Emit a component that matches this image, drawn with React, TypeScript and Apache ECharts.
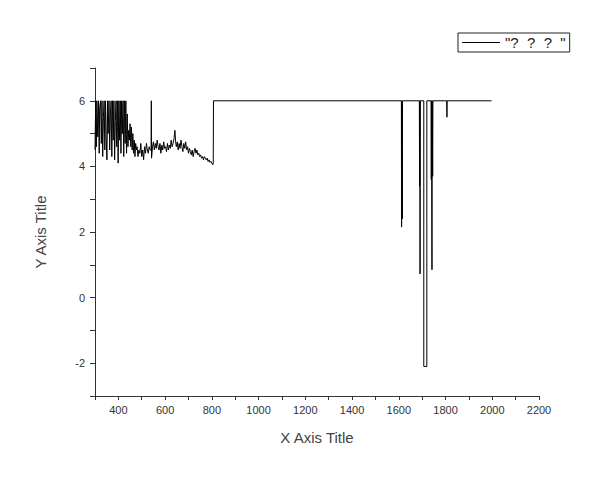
import React, { useEffect, useRef } from "react";
import * as echarts from "echarts";

const seriesName = '"?  ?  ?  "';
const xTitle = "X Axis Title";
const yTitle = "Y Axis Title";

// noisy start (x, y)
const noisyPoints: [number, number][] = [
  [300, 4.5], [303, 6], [306, 4.6], [308, 6], [312, 4.9], [315, 6], [318, 4.4], [320, 5.8],
  [324, 6], [327, 4.7], [330, 6], [333, 4.3], [336, 5.5], [339, 6], [342, 4.5], [345, 6],
  [348, 4.9], [351, 4.2], [354, 6], [356, 5.0], [360, 6], [363, 4.5], [366, 5.6], [369, 6],
  [372, 4.3], [375, 6], [378, 4.8], [381, 6], [384, 4.2], [387, 5.4], [390, 6], [393, 4.6],
  [396, 6], [399, 4.1], [402, 6], [405, 4.8], [408, 6], [411, 4.4], [414, 6], [417, 5.0],
  [420, 6], [423, 4.3], [426, 6], [429, 4.7], [432, 6], [435, 4.4], [438, 5.6], [441, 4.6],
  [444, 5.1], [447, 4.8], [450, 5.3], [453, 4.6], [456, 5.2], [459, 4.5], [462, 5.0], [465, 4.4],
  [468, 4.8], [471, 4.3], [474, 4.7], [477, 4.5], [480, 4.6], [484, 4.3], [488, 4.5], [492, 4.4],
  [496, 4.7], [500, 4.3], [504, 4.5], [508, 4.2], [512, 4.6], [516, 4.4], [520, 4.7], [524, 4.5],
  [528, 4.4], [532, 4.6], [536, 4.5], [540, 4.5], [541, 6], [542, 4.25], [546, 4.6], [550, 4.75],
  [554, 4.5], [558, 4.7], [562, 4.55], [566, 4.8], [570, 4.6], [574, 4.5], [578, 4.7], [582, 4.4],
  [586, 4.65], [590, 4.5], [594, 4.75], [598, 4.55], [602, 4.6], [606, 4.45], [610, 4.7], [614, 4.5],
  [618, 4.65], [622, 4.55], [626, 4.8], [630, 4.6], [634, 4.7], [638, 4.85], [642, 5.1], [645, 4.75],
  [648, 4.6], [652, 4.75], [656, 4.5], [660, 4.7], [664, 4.55], [668, 4.8], [672, 4.6], [676, 4.45],
  [680, 4.7], [684, 4.55], [688, 4.75], [692, 4.5], [696, 4.6], [700, 4.4], [704, 4.55], [708, 4.45],
  [712, 4.35], [716, 4.5], [720, 4.3], [724, 4.45], [728, 4.55], [732, 4.4], [736, 4.5], [740, 4.35],
  [744, 4.4], [748, 4.3], [752, 4.35], [756, 4.25], [760, 4.3], [764, 4.2], [768, 4.3], [772, 4.25],
  [776, 4.2], [780, 4.25], [784, 4.15], [788, 4.2], [792, 4.12], [796, 4.15], [800, 4.1], [804, 4.05],
  [806, 4.1],
];

// plateau with downward spikes (x, y)
const plateauPoints: [number, number][] = [
  [807, 6], [1611, 6], [1612, 2.15], [1613, 6], [1615, 2.4], [1616, 6],
  [1688, 6], [1689, 3.4], [1690, 6], [1691, 0.72], [1692, 6],
  [1707, 6], [1707, -2.1], [1720, -2.1], [1720, 6],
  [1738, 6], [1739, 3.6], [1740, 6], [1742, 0.85], [1743, 6], [1745, 3.7], [1746, 6],
  [1805, 6], [1806, 5.5], [1807, 6], [1997, 6],
];

const FONT = "Liberation Sans, Arial, sans-serif";

export default function App() {
  const ref = useRef<HTMLDivElement>(null);
  useEffect(() => {
    if (!ref.current) return;
    const chart = echarts.init(ref.current, undefined, { renderer: "svg" });
    chart.setOption({
      animation: false,
      backgroundColor: "#ffffff",
      grid: { left: 95, right: 61, top: 68, bottom: 84 },
      legend: {
        left: 458,
        top: 33,
        padding: [2, 4, 2, 4],
        icon: "rect",
        itemWidth: 38,
        itemHeight: 1,
        itemGap: 5,
        borderColor: "#222",
        borderWidth: 1,
        textStyle: { fontSize: 15, color: "#222", fontFamily: FONT, lineHeight: 15 },
        data: [seriesName],
      },
      xAxis: {
        type: "value",
        min: 300,
        max: 2200,
        interval: 100,
        name: xTitle,
        nameLocation: "middle",
        nameGap: 34,
        nameTextStyle: { fontSize: 15, color: "#444", fontFamily: FONT },
        axisLine: { show: true, onZero: false, lineStyle: { color: "#333", width: 1 } },
        axisTick: { show: true, inside: false, length: 4, lineStyle: { color: "#333" } },
        axisLabel: {
          fontSize: 11,
          color: "#333",
          fontFamily: FONT,
          margin: 8,
          formatter: (v: number) => (v % 200 === 0 ? String(v) : ""),
        },
        splitLine: { show: false },
      },
      yAxis: {
        type: "value",
        min: -3,
        max: 7,
        interval: 1,
        name: yTitle,
        nameLocation: "middle",
        nameGap: 47,
        nameRotate: 90,
        nameTextStyle: { fontSize: 15, color: "#444", fontFamily: FONT },
        axisLine: { show: true, onZero: false, lineStyle: { color: "#333", width: 1 } },
        axisTick: { show: true, inside: false, length: 5, lineStyle: { color: "#333" } },
        axisLabel: {
          fontSize: 11,
          color: "#333",
          fontFamily: FONT,
          margin: 10,
          formatter: (v: number) => (Math.abs(v % 2) === 0 ? String(v) : ""),
        },
        splitLine: { show: false },
      },
      series: [
        {
          name: seriesName,
          type: "line",
          symbol: "none",
          showSymbol: false,
          lineStyle: { color: "#000", width: 1 },
          itemStyle: { color: "#000" },
          data: [...noisyPoints, ...plateauPoints],
        },
      ],
    });
    return () => chart.dispose();
  }, []);
  return <div ref={ref} style={{ width: 600, height: 480, margin: -8 }} />;
}
